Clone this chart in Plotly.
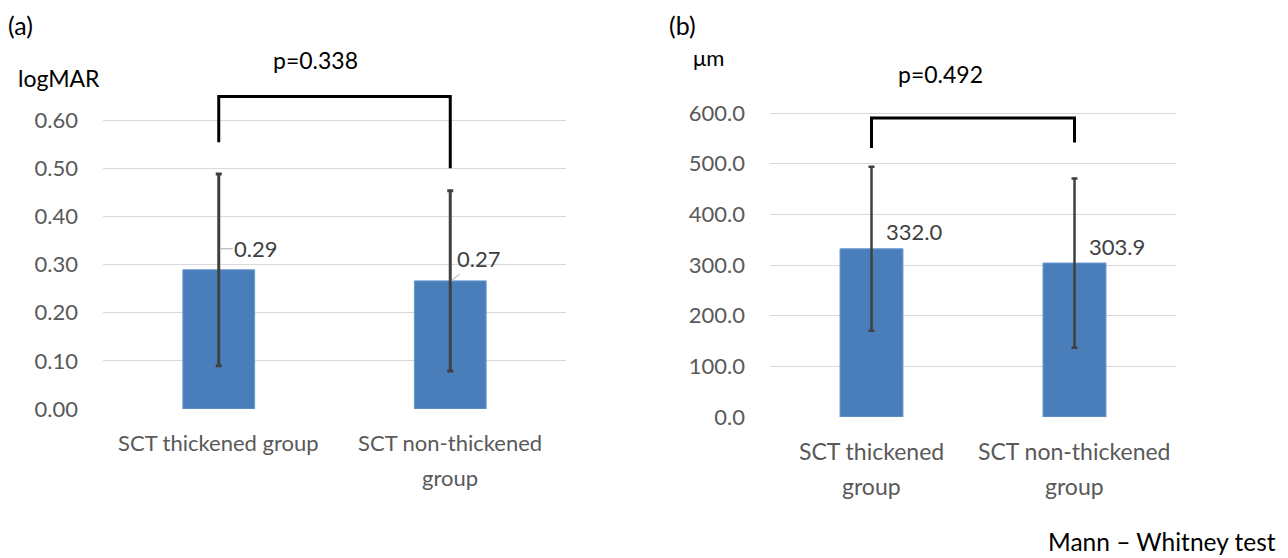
import plotly.graph_objects as go

# ---------------- data ----------------
categories = ["SCT thickened group", "SCT non-thickened group"]
left_tick_lines = [["SCT thickened group"], ["SCT non-thickened", "group"]]
right_tick_lines = [["SCT thickened", "group"], ["SCT non-thickened", "group"]]

logmar_mean = [0.289, 0.266]
logmar_sd = [0.199, 0.187]
sct_mean = [332.0, 303.9]
sct_sd = [162.0, 167.0]

left_ticks = [0.0, 0.1, 0.2, 0.3, 0.4, 0.5, 0.6]
right_ticks = [0, 100, 200, 300, 400, 500, 600]

p_left = "p=0.338"
p_right = "p=0.492"
left_bracket_y = [0.554, 0.649, 0.649, 0.500]
right_bracket_y = [531, 590, 590, 542]

# ---------------- styling ----------------
W, H = 1288, 558
FONT = "Lato"
FS = 22
BAR = "#4a7ebb"
ERR = "#404040"
GRID = "#d9d9d9"
TICK = "#595959"


def px_x(p):
    return p / W


def px_y(p):
    return 1 - p / H


fig = go.Figure()

fig.add_trace(go.Bar(
    x=categories, y=logmar_mean, xaxis="x", yaxis="y",
    marker=dict(color=BAR, line=dict(color="#6a98cf", width=1)),
    error_y=dict(type="data", array=logmar_sd, color=ERR, thickness=3, width=3),
    showlegend=False, hoverinfo="skip"))

fig.add_trace(go.Bar(
    x=categories, y=sct_mean, xaxis="x2", yaxis="y2",
    marker=dict(color=BAR, line=dict(color="#6a98cf", width=1)),
    error_y=dict(type="data", array=sct_sd, color=ERR, thickness=2.5, width=3),
    showlegend=False, hoverinfo="skip"))

# significance brackets
br_x = [categories[0], categories[0], categories[1], categories[1]]
fig.add_trace(go.Scatter(x=br_x, y=left_bracket_y, xaxis="x", yaxis="y",
                         mode="lines", line=dict(color="black", width=3),
                         showlegend=False, hoverinfo="skip"))
fig.add_trace(go.Scatter(x=br_x, y=right_bracket_y, xaxis="x2", yaxis="y2",
                         mode="lines", line=dict(color="black", width=3),
                         showlegend=False, hoverinfo="skip"))

annotations = []

# value labels - left (with leader lines)
annotations.append(dict(x=categories[0], y=logmar_mean[0], xref="x", yref="y",
                        text=f"{logmar_mean[0]:.2f}", showarrow=True, ax=35, ay=0,
                        xshift=2, yshift=21, arrowhead=0, arrowwidth=1,
                        arrowcolor="#a6a6a6", font=dict(family=FONT, size=FS, color=ERR)))
annotations.append(dict(x=categories[1], y=logmar_mean[1], xref="x", yref="y",
                        text=f"{logmar_mean[1]:.2f}", showarrow=True, ax=27, ay=-22,
                        xshift=1, yshift=0, arrowhead=0, arrowwidth=1,
                        arrowcolor="#a6a6a6", font=dict(family=FONT, size=FS, color=ERR)))
# value labels - right
for c, v in zip(categories, sct_mean):
    annotations.append(dict(x=c, y=v, xref="x2", yref="y2", text=f"{v:.1f}",
                            showarrow=False, xshift=42, yshift=17,
                            font=dict(family=FONT, size=FS, color=ERR)))

# category labels (multi-line)
for c, lines in zip(categories, left_tick_lines):
    for i, t in enumerate(lines):
        annotations.append(dict(x=c, y=0, xref="x", yref="y", text=t, showarrow=False,
                                yshift=-(34 + 35 * i), font=dict(family=FONT, size=FS, color=TICK)))
for c, lines in zip(categories, right_tick_lines):
    for i, t in enumerate(lines):
        annotations.append(dict(x=c, y=0, xref="x2", yref="y2", text=t, showarrow=False,
                                yshift=-(34 + 35 * i), font=dict(family=FONT, size=23, color=TICK)))

# titles and notes
def paper_text(text, x, y, anchor="center", size=FS):
    return dict(x=px_x(x), y=px_y(y), xref="paper", yref="paper", text=text,
                showarrow=False, xanchor=anchor, yanchor="middle",
                font=dict(family=FONT, size=size, color="black"))

annotations += [
    paper_text("(a)", 6, 25, "left", 25),
    paper_text("(b)", 667, 25, "left", 25),
    paper_text(p_left, 315, 60, size=23),
    paper_text(p_right, 940, 74, size=23),
    paper_text("logMAR", 59, 78, size=23),
    paper_text("μm", 708, 57),
    paper_text("Mann – Whitney test", 1162, 541, size=24.5),
]

left_top_px = 409 - 0.66 * (409 - 120) / 0.6
fig.update_layout(
    template="none",
    width=W, height=H,
    margin=dict(l=0, r=0, t=0, b=0, pad=0, autoexpand=False),
    paper_bgcolor="white", plot_bgcolor="white",
    bargap=0.69,
    showlegend=False,
    font=dict(family=FONT, size=FS, color=TICK),
    xaxis=dict(domain=[px_x(103), px_x(566)], showticklabels=False, showgrid=False,
               zeroline=False, showline=False, range=[-0.5, 1.5], automargin=False,
               ticks=""),
    yaxis=dict(domain=[px_y(409), px_y(left_top_px)], range=[0, 0.66],
               tickvals=left_ticks, ticktext=[f"{v:.2f}" for v in left_ticks],
               showgrid=True, gridcolor=GRID, gridwidth=1, zeroline=False,
               showline=False, ticks="", ticklabelstandoff=24, automargin=False,
               tickfont=dict(family=FONT, size=FS, color=TICK)),
    xaxis2=dict(domain=[px_x(770), px_x(1176)], anchor="y2", showticklabels=False,
                showgrid=False, zeroline=False, showline=False, range=[-0.5, 1.5],
                automargin=False, ticks=""),
    yaxis2=dict(domain=[px_y(417), px_y(112)], anchor="x2", range=[0, 602],
                tickvals=right_ticks, ticktext=[f"{v:.1f}" for v in right_ticks],
                showgrid=True, gridcolor=GRID, gridwidth=1, zeroline=False,
                showline=False, ticks="", ticklabelstandoff=24, automargin=False,
                tickfont=dict(family=FONT, size=FS, color=TICK)),
    annotations=annotations,
)

fig.write_html(
    "out.html",
    config={"displayModeBar": False},
    post_script="document.body.style.margin='0';document.body.style.overflow='hidden';",
)
